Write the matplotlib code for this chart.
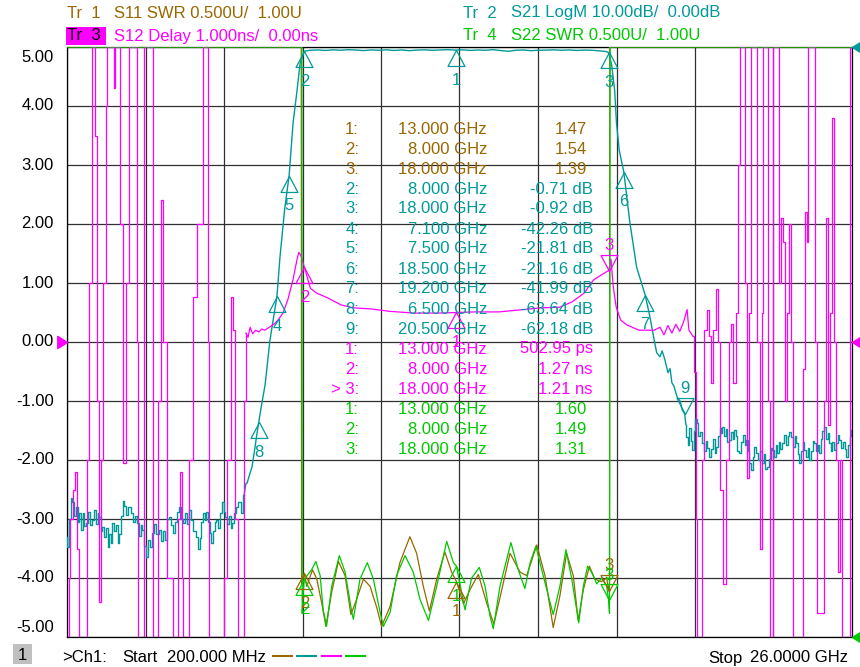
import numpy as np
import matplotlib.pyplot as plt
from matplotlib.path import Path
from matplotlib.patches import Rectangle
from matplotlib.lines import Line2D

plt.rcParams['font.family'] = ['Liberation Sans', 'DejaVu Sans']

W, H = 860, 667
BROWN = '#996600'
TEAL = '#009999'
MAGENTA = '#ff00ff'
GREEN = '#00c800'
F_START, F_STOP = 0.2, 26.0
FS = 12

# ---- Tr1 S11 SWR (U) ----
s11_f = [0.2, 7.90, 7.91, 8.00, 8.08, 8.27, 8.41, 8.57, 8.71, 8.90, 9.12, 9.34, 9.53, 9.72, 9.94,
         10.16, 10.38, 10.54, 10.82, 11.14, 11.47, 11.69, 11.91, 12.11, 12.35, 12.62, 12.84,
         13.00, 13.23, 13.44, 13.72, 13.99, 14.23, 14.49, 14.76, 15.09, 15.31, 15.64, 15.91,
         16.18, 16.40, 16.62, 16.84, 17.00, 17.17, 17.37, 17.55, 17.77, 17.94, 18.00, 18.03,
         18.04, 26.0]
s11_swr = [6.0, 6.0, 1.45, 1.54, 1.43, 1.57, 1.49, 1.29, 1.09, 1.38, 1.64, 1.52, 1.19, 1.32, 1.49,
           1.43, 1.25, 1.09, 1.26, 1.63, 1.85, 1.71, 1.43, 1.22, 1.49, 1.72, 1.55,
           1.47, 1.28, 1.40, 1.53, 1.29, 1.11, 1.40, 1.71, 1.55, 1.52, 1.78, 1.52,
           1.08, 1.35, 1.71, 1.52, 1.14, 1.40, 1.60, 1.49, 1.47, 1.50, 1.39, 1.45,
           6.0, 6.0]

# ---- Tr4 S22 SWR (U) ----
s22_f = [0.2, 7.92, 7.93, 7.97, 8.00, 8.24, 8.38, 8.52, 8.62, 8.73, 8.90, 9.15, 9.34, 9.56, 9.61,
         9.83, 10.07, 10.27, 10.49, 10.60, 10.82, 11.03, 11.31, 11.58, 11.80, 12.08, 12.35,
         12.68, 12.90, 13.00, 13.28, 13.50, 13.75, 13.94, 14.10, 14.21, 14.43, 14.79, 15.03,
         15.25, 15.42, 15.61, 15.85, 16.18, 16.40, 16.60, 16.79, 17.02, 17.17, 17.31, 17.44,
         17.61, 17.77, 17.94, 18.00, 18.03, 18.05, 26.0]
s22_swr = [6.0, 6.0, 1.20, 1.40, 1.49, 1.57, 1.64, 1.52, 1.23, 1.09, 1.43, 1.69, 1.55, 1.21, 1.15,
           1.49, 1.63, 1.49, 1.21, 1.09, 1.21, 1.52, 1.69, 1.55, 1.32, 1.14, 1.43,
           1.81, 1.63, 1.60, 1.23, 1.50, 1.59, 1.43, 1.18, 1.07, 1.43, 1.80, 1.57,
           1.41, 1.63, 1.77, 1.52, 1.19, 1.43, 1.74, 1.49, 1.12, 1.43, 1.60, 1.55,
           1.45, 1.50, 1.43, 1.31, 1.20, 6.0, 6.0]

# ---- Tr2 S21 LogM (dB) ----
s21_f = [0.20, 0.23, 0.30, 0.36, 0.40, 0.46, 0.52, 0.58, 0.63, 0.69, 0.75, 0.80, 0.86, 0.92, 0.98,
         1.05, 1.12, 1.18, 1.23, 1.28, 1.33, 1.38, 1.45, 1.52, 1.57, 1.61, 1.66, 1.71, 1.78,
         1.84, 1.90, 1.94, 2.00, 2.06, 2.11, 2.18, 2.25, 2.34, 2.40, 2.46, 2.53, 2.60, 2.65,
         2.70, 2.76, 2.82, 2.88, 2.95, 3.03, 3.10, 3.18, 3.26, 3.32, 3.38, 3.45, 3.52, 3.59,
         3.65, 3.70, 3.77, 3.84, 3.91, 3.98, 4.04, 4.12, 4.18, 4.24, 4.30, 4.38, 4.47, 4.53,
         4.58, 4.64, 4.70, 4.75, 4.80, 4.86, 4.92, 4.97, 5.03, 5.08, 5.13, 5.19, 5.26, 5.33,
         5.38, 5.42, 5.49, 5.55, 5.60, 5.66, 5.72, 5.78, 5.84, 5.89, 5.95, 6.02, 6.08, 6.12,
         6.20, 6.28, 6.36, 6.43, 6.50, 6.60, 6.71, 6.80, 6.87, 7.00, 7.10, 7.20, 7.36, 7.50,
         7.63, 7.76, 7.86, 8.00, 8.20, 8.45, 8.70, 8.95, 9.20, 9.45, 9.70, 9.95, 10.20, 10.45,
         10.70, 10.95, 11.20, 11.45, 11.70, 11.95, 12.20, 12.45, 12.70, 12.95, 13.20, 13.45,
         13.70, 13.95, 14.20, 14.45, 14.70, 14.95, 15.20, 15.45, 15.70, 15.95, 16.20, 16.45,
         16.70, 16.95, 17.20, 17.45, 17.70, 17.90, 18.00, 18.10, 18.20, 18.26, 18.35, 18.50,
         18.69, 18.92, 19.20, 19.35, 19.50, 19.58, 19.69, 19.76, 19.85, 19.95, 20.02, 20.08,
         20.15, 20.25, 20.35, 20.42, 20.50, 20.54, 20.58, 20.62, 20.68, 20.72, 20.77, 20.82,
         20.87, 20.91, 20.96, 21.02, 21.10, 21.16, 21.22, 21.28, 21.33, 21.40, 21.47, 21.52,
         21.56, 21.62, 21.68, 21.72, 21.76, 21.82, 21.88, 21.93, 21.99, 22.05, 22.10, 22.15,
         22.20, 22.26, 22.32, 22.38, 22.44, 22.50, 22.55, 22.60, 22.66, 22.71, 22.76, 22.82,
         22.88, 22.94, 23.00, 23.07, 23.12, 23.18, 23.24, 23.30, 23.35, 23.40, 23.46, 23.52,
         23.57, 23.62, 23.68, 23.73, 23.80, 23.86, 23.92, 23.97, 24.03, 24.09, 24.14, 24.19,
         24.24, 24.29, 24.35, 24.41, 24.46, 24.52, 24.57, 24.62, 24.68, 24.73, 24.78, 24.84,
         24.90, 24.95, 25.00, 25.06, 25.11, 25.17, 25.22, 25.28, 25.33, 25.38, 25.44, 25.50,
         25.56, 25.61, 25.67, 25.73, 25.78, 25.84, 25.90, 25.95, 26.00]
s21_db = [-83.0, -84.7, -80.0, -76.5, -77.2, -79.5, -78.0, -80.5, -78.9, -81.8, -79.0, -81.2, -80.6, -78.8, -81.0,
          -80.1, -78.5, -80.8, -78.9, -79.6, -82.0, -81.3, -83.0, -81.5, -84.7, -82.5, -84.0, -80.6, -82.0,
          -81.0, -84.0, -82.6, -79.5, -76.9, -77.8, -79.4, -78.0, -78.9, -80.5, -79.5, -80.6, -82.8, -81.0,
          -81.8, -84.5, -86.4, -83.5, -84.8, -82.3, -80.8, -82.5, -81.8, -83.8, -82.0, -83.5, -80.0, -79.6,
          -81.0, -82.3, -80.5, -78.8, -77.9, -80.0, -80.6, -79.0, -80.8, -78.4, -80.2, -82.0, -83.0, -85.0,
          -83.2, -80.5, -79.0, -80.2, -78.8, -80.5, -82.3, -84.0, -82.0, -80.5, -80.1, -81.5, -79.0, -77.2,
          -78.8, -79.6, -80.8, -79.5, -81.5, -80.6, -79.0, -78.0, -77.2, -77.2, -78.9, -76.0, -74.0, -73.9,
          -72.5, -71.2, -68.5, -66.0, -63.64, -60.5, -57.3, -53.0, -49.7, -45.5, -42.26, -35.6, -27.2, -21.81,
          -12.9, -7.4, -2.8, -0.71, -0.55, -0.50, -0.58, -0.48, -0.55, -0.45, -0.52, -0.60, -0.50, -0.55,
          -0.48, -0.58, -0.50, -0.62, -0.52, -0.48, -0.55, -0.50, -0.45, -0.52, -0.48, -0.58,
          -0.50, -0.55, -0.45, -0.60, -0.72, -0.55, -0.50, -0.62, -0.55, -0.52, -0.48, -0.55,
          -0.50, -0.58, -0.52, -0.55, -0.65, -0.75, -0.92, -3.0, -7.4, -12.9, -17.5, -21.16,
          -29.4, -37.3, -41.99, -45.5, -49.7, -51.8, -52.5, -51.5, -53.0, -55.2, -54.5, -56.9,
          -57.5, -59.3, -60.0, -61.5, -62.18, -64.0, -66.1, -67.5, -64.5, -66.8, -68.3, -65.0,
          -63.0, -63.7, -66.0, -65.2, -67.1, -68.5, -66.8, -68.0, -69.5, -68.2, -66.5, -68.8,
          -67.8, -66.0, -64.6, -65.5, -64.4, -66.0, -64.8, -67.0, -66.6, -65.2, -66.5, -64.9,
          -66.0, -68.5, -68.8, -67.0, -65.8, -67.5, -66.6, -68.5, -70.5, -71.7, -69.5, -67.8,
          -68.8, -70.0, -68.5, -70.5, -69.0, -71.5, -71.2, -69.8, -68.0, -68.3, -69.5, -67.5,
          -68.8, -67.0, -68.2, -67.1, -65.8, -67.5, -66.0, -65.2, -66.1, -67.8, -66.0, -67.1,
          -69.0, -70.5, -68.5, -67.0, -68.3, -69.5, -68.0, -70.0, -68.5, -66.8, -67.1, -68.5,
          -67.5, -68.8, -66.5, -65.0, -64.4, -66.5, -65.5, -67.1, -68.5, -66.9, -68.3, -67.2,
          -65.8, -66.6, -68.0, -67.0, -68.2, -69.5, -67.5, -66.0, -64.9]

# ---- Tr3 S12 Delay (ns) ----
s12_f = [0.20, 0.23, 0.27, 0.30, 0.40, 0.46, 0.53, 0.59, 0.66, 0.79, 0.86, 0.92, 1.02, 1.05, 1.12,
         1.19, 1.25, 1.32, 1.38, 1.48, 1.51, 1.71, 1.74, 1.78, 1.88, 1.94, 2.04, 2.14, 2.24,
         2.43, 2.50, 2.53, 2.70, 2.73, 2.96, 3.03, 3.13, 3.19, 3.29, 3.36, 3.49, 3.68, 3.82,
         3.85, 3.91, 3.98, 4.01, 4.14, 4.21, 4.34, 4.47, 4.67, 4.77, 4.83, 4.87, 5.29, 5.36,
         5.46, 5.59, 5.66, 5.72, 5.82, 5.95, 6.02, 6.08, 6.15, 6.22, 6.30, 6.40, 6.50, 6.60,
         6.70, 6.85, 7.00, 7.13, 7.30, 7.46, 7.63, 7.76, 7.82, 7.90, 8.00, 8.20, 8.40, 8.80,
         9.20, 9.60, 10.20, 10.80, 11.60, 12.40, 13.00, 13.60, 14.40, 15.00, 15.80, 16.40,
         16.80, 17.20, 17.50, 17.80, 18.00, 18.08, 18.15, 18.25, 18.40, 18.60, 19.00, 19.30,
         19.50, 19.69, 19.82, 19.95, 20.08, 20.21, 20.34, 20.47, 20.58, 20.64, 20.77, 20.81,
         20.87, 20.91, 21.00, 21.07, 21.14, 21.23, 21.30, 21.37, 21.43, 21.53, 21.60, 21.66,
         21.76, 21.86, 21.96, 22.02, 22.09, 22.19, 22.25, 22.32, 22.45, 22.48, 22.55, 22.61,
         22.68, 22.81, 22.88, 22.98, 23.04, 23.07, 23.17, 23.24, 23.30, 23.37, 23.40, 23.54,
         23.60, 23.67, 23.73, 23.80, 23.86, 23.93, 23.99, 24.06, 24.35, 24.39, 24.46, 24.52,
         24.55, 24.72, 24.78, 24.85, 25.01, 25.08, 25.14, 25.21, 25.28, 25.34, 25.41, 25.47,
         25.54, 25.61, 25.67, 25.87, 25.94, 26.00]
s12_ns = [-5, -5, -4.0, -3.0, -2.5, -2.2, -3.5, -5, -5, -5, -2.0, 1.0, 5, 5, 3.5,
          -1.0, -4.4, -2.0, 1.0, 4.0, 5, 5, 4.3, 5, 5, 2.0, -2.05, 1.0, 5,
          5, 0.0, -5, -5, 5, 5, -5, -5, -1.0, 2.4, 0.0, -4.0, -5, -5,
          -3.0, -2.2, -4.0, -5, -5, -2.0, 0.76, 2.0, 5, 5, 0.0, -5, -5, -4.0,
          -2.0, 0.76, 0.2, -3.0, -5, -5, -1.0, 0.15, 0.08, 0.25, 0.14, 0.20, 0.17, 0.22,
          0.20, 0.25, 0.30, 0.37, 0.49, 0.72, 1.06, 1.40, 1.52, 1.45, 1.27, 0.91, 0.83, 0.74,
          0.63, 0.58, 0.56, 0.52, 0.49, 0.49, 0.50, 0.51, 0.51, 0.54, 0.58, 0.59,
          0.68, 0.83, 1.05, 1.15, 1.21, 1.40, 0.95, 0.59, 0.37, 0.29, 0.20, 0.20,
          0.20, 0.25, 0.12, 0.28, 0.15, 0.30, 0.18, 0.35, 0.55, 0.20, 0.10, -0.5,
          -3.0, -5, -5, -2.0, 0.2, 0.55, 0.1, -0.7, 0.2, 0.9, 0.0, -2.5,
          -4.1, -2.0, 0.0, 0.3, -0.7, 0.5, 3.0, 5, 5, 1.0, -2.3, 0.5,
          5, 5, 0.0, -3.5, 0.5, 5, 5, -1.0, -5, -5, 5, 5,
          1.0, 2.1, 1.7, -1.0, 0.5, 2.0, 0.0, -5, -5, -0.45, 2.2, 1.7,
          5, 5, 0.0, -4.6, -4.6, -1.0, 2.1, -1.4, 0.5, 3.8, 0.0, -2.0,
          -3.9, -2.0, -5, -5, 5, 5]

# ---- marker readouts ----
s11_mk_id = ['1', '2', '3']
s11_mk_f = [13.0, 8.0, 18.0]
s11_mk_v = [1.47, 1.54, 1.39]
s21_mk_id = ['2', '3', '4', '5', '6', '7', '8', '9']
s21_mk_f = [8.0, 18.0, 7.1, 7.5, 18.5, 19.2, 6.5, 20.5]
s21_mk_v = [-0.71, -0.92, -42.26, -21.81, -21.16, -41.99, -63.64, -62.18]
s12_mk_id = ['1', '2', '> 3']
s12_mk_f = [13.0, 8.0, 18.0]
s12_mk_v = [0.50295, 1.27, 1.21]
s22_mk_id = ['1', '2', '3']
s22_mk_f = [13.0, 8.0, 18.0]
s22_mk_v = [1.60, 1.49, 1.31]


def swr_div(v):
    return -5 + (np.asarray(v, dtype=float) - 1.0) / 0.5   # 0.5U/div, ref 1.00U at bottom


def db_div(v):
    return 5 + np.asarray(v, dtype=float) / 10.0          # 10dB/div, ref 0dB at top


def ns_div(v):
    return np.asarray(v, dtype=float) / 1.0               # 1ns/div, ref 0ns at centre


def px(x, y):
    return x / W, 1 - y / H


fig = plt.figure(figsize=(W / 100, H / 100), dpi=100)
ax = fig.add_axes([67 / W, 30 / H, 785 / W, 590 / H])
ax.set_xlim(F_START, F_STOP)
ax.set_ylim(-5, 5)
ax.set_xticks(np.linspace(F_START, F_STOP, 11))
ax.set_yticks(np.arange(-5, 6))
ax.tick_params(length=0, labelleft=False, labelbottom=False)
ax.grid(True, color='#303030', lw=0.9)
ax.set_axisbelow(True)
for sp in ax.spines.values():
    sp.set_color('black')
    sp.set_linewidth(0.9)

# traces; the noisy out-of-band parts are drawn stepwise like the analyzer does
ax.plot(s11_f, swr_div(s11_swr), color=BROWN, lw=0.9, zorder=3)

f21 = np.array(s21_f)
y21 = db_div(s21_db)
for m, ds in [(f21 <= 6.02, 'steps-mid'), ((f21 >= 6.02) & (f21 <= 20.54), 'default'),
              (f21 >= 20.54, 'steps-mid')]:
    ax.plot(f21[m], y21[m], color=TEAL, lw=1.0, drawstyle=ds, zorder=4)

f12 = np.array(s12_f)
y12 = ns_div(s12_ns)
for m, ds in [(f12 <= 6.08, 'steps-post'), ((f12 >= 6.08) & (f12 <= 20.77), 'default'),
              (f12 >= 20.77, 'steps-post')]:
    ax.plot(f12[m], y12[m], color=MAGENTA, lw=0.9, drawstyle=ds, zorder=5)

ax.plot(s22_f, swr_div(s22_swr), color=GREEN, lw=0.9, zorder=6)

# marker triangles (tip on the value)
TRI_UP = Path([(0, 0), (-0.53, -1), (0.53, -1), (0, 0)], closed=True)
TRI_DN = Path([(0, 0), (-0.53, 1), (0.53, 1), (0, 0)], closed=True)


def draw_marker(f, y, label, color, down=False):
    ax.plot([f], [y], marker=TRI_DN if down else TRI_UP, ms=23, mfc='none', mec=color,
            mew=0.9, ls='none', zorder=7, clip_on=False)
    dy = 25 if down else -30
    ax.annotate(label, xy=(f, y), xytext=(0, dy), textcoords='offset pixels',
                ha='center', va='center', color=color, fontsize=FS, zorder=7)


for i, f, v in zip(s21_mk_id, s21_mk_f, s21_mk_v):
    draw_marker(f, db_div(v), i, TEAL, down=(i == '9'))
draw_marker(13.0, db_div(np.interp(13.0, s21_f, s21_db)), '1', TEAL)
for i, f, v in zip(s11_mk_id, s11_mk_f, s11_mk_v):
    draw_marker(f, swr_div(v), i, BROWN, down=(i == '3'))
for i, f, v in zip(s12_mk_id, s12_mk_f, s12_mk_v):
    draw_marker(f, ns_div(v), i.strip('> '), MAGENTA, down=(i == '> 3'))
for i, f, v in zip(s22_mk_id, s22_mk_f, s22_mk_v):
    draw_marker(f, swr_div(v), i, GREEN, down=(i == '3'))

# reference position arrows at the graticule edges
REF_R = Path([(0, 0), (-0.8, -0.5), (-0.8, 0.5), (0, 0)], closed=True)
REF_L = Path([(0, 0), (0.8, -0.5), (0.8, 0.5), (0, 0)], closed=True)
yt = ax.get_yaxis_transform()
ax.plot([0], [0], marker=REF_R, ms=14, color=MAGENTA, transform=yt, clip_on=False, zorder=8)
ax.plot([1], [0], marker=REF_L, ms=14, color=MAGENTA, transform=yt, clip_on=False, zorder=8)
ax.plot([1], [5], marker=REF_L, ms=14, color=TEAL, transform=yt, clip_on=False, zorder=8)
ax.plot([1], [-5], marker=REF_L, ms=14, color=GREEN, transform=yt, clip_on=False, zorder=8)

# y labels (graticule divisions)
for v in range(-5, 6):
    dy = -10 if v == 5 else (10 if v == -5 else 0)
    ax.annotate(f'{v:.2f}', xy=(0, v), xycoords=('axes fraction', 'data'), xytext=(-13, dy),
                textcoords='offset pixels', ha='right', va='center', fontsize=FS, color='black')

# marker table
rows = []
for i, f, v in zip(s11_mk_id, s11_mk_f, s11_mk_v):
    rows.append((i, f, f'{v:.2f}', BROWN, 587))
for i, f, v in zip(s21_mk_id, s21_mk_f, s21_mk_v):
    rows.append((i, f, f'{v:.2f} dB', TEAL, 593))
for i, f, v in zip(s12_mk_id, s12_mk_f, s12_mk_v):
    txt = f'{v * 1000:.2f} ps' if v < 1 else f'{v:.2f} ns'
    rows.append((i, f, txt, MAGENTA, 593))
for i, f, v in zip(s22_mk_id, s22_mk_f, s22_mk_v):
    rows.append((i, f, f'{v:.2f}', GREEN, 587))

for k, (i, f, txt, col, xr) in enumerate(rows):
    y = 129 + 20 * k
    fig.text(*px(359, y), f'{i}:', ha='right', va='center', color=col, fontsize=FS, zorder=9)
    fig.text(*px(487, y), f'{f:.3f} GHz', ha='right', va='center', color=col, fontsize=FS, zorder=9)
    fig.text(*px(xr, y), txt, ha='right', va='center', color=col, fontsize=FS, zorder=9)

# header
fig.patches.append(Rectangle(px(66, 45), 40 / W, 18 / H, transform=fig.transFigure,
                             facecolor=MAGENTA, edgecolor='none'))
fig.text(*px(67, 13), 'Tr  1', ha='left', va='center', color=BROWN, fontsize=FS)
fig.text(*px(114, 13), 'S11 SWR 0.500U/  1.00U', ha='left', va='center', color=BROWN, fontsize=FS)
fig.text(*px(67, 36), 'Tr  3', ha='left', va='center', color='black', fontsize=FS)
fig.text(*px(114, 36), 'S12 Delay 1.000ns/  0.00ns', ha='left', va='center', color=MAGENTA, fontsize=FS)
fig.text(*px(463, 13), 'Tr  2', ha='left', va='center', color=TEAL, fontsize=FS)
fig.text(*px(511, 13), 'S21 LogM 10.00dB/  0.00dB', ha='left', va='center', color=TEAL, fontsize=FS)
fig.text(*px(463, 36), 'Tr  4', ha='left', va='center', color=GREEN, fontsize=FS)
fig.text(*px(511, 36), 'S22 SWR 0.500U/  1.00U', ha='left', va='center', color=GREEN, fontsize=FS)

# footer
fig.patches.append(Rectangle(px(13, 664), 19 / W, 20 / H, transform=fig.transFigure,
                             facecolor='#c0c0c0', edgecolor='none'))
fig.text(*px(22, 655), '1', ha='center', va='center', color='black', fontsize=FS)
fig.text(*px(62, 658), '>Ch1:', ha='left', va='center', color='black', fontsize=FS)
fig.text(*px(122, 658), 'Start', ha='left', va='center', color='black', fontsize=FS)
fig.text(*px(167, 658), '200.000 MHz', ha='left', va='center', color='black', fontsize=FS)
fig.text(*px(708, 658), 'Stop', ha='left', va='center', color='black', fontsize=FS)
fig.text(*px(848, 658), '26.0000 GHz', ha='right', va='center', color='black', fontsize=FS)
for x0, col in zip([273, 297, 322, 346], [BROWN, TEAL, MAGENTA, GREEN]):
    fig.add_artist(Line2D([x0 / W, (x0 + 19) / W], [1 - 656 / H] * 2, transform=fig.transFigure,
                          color=col, lw=1.5))

fig.savefig('out.png', dpi=100)
